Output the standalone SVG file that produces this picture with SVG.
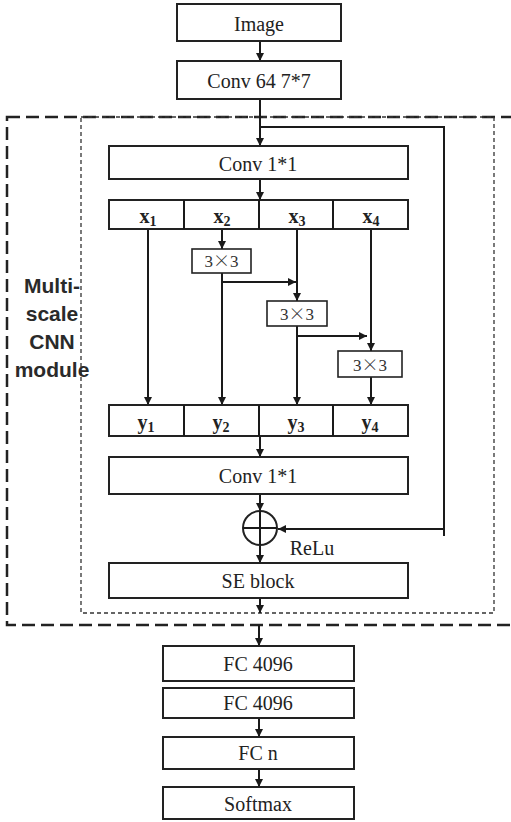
<svg xmlns="http://www.w3.org/2000/svg" width="511" height="822" viewBox="0 0 511 822">
<defs>
<marker id="ah" viewBox="0 0 10 10" refX="10" refY="5" markerWidth="8" markerHeight="8" markerUnits="userSpaceOnUse" orient="auto">
<path d="M0,0 L10,5 L0,10 z" fill="#1a1a1a"/>
</marker>
<style>
.box{fill:#fff;stroke:#222;stroke-width:2}
.sbox{fill:#fff;stroke:#222;stroke-width:1.6}
.lbl{font-family:"Liberation Serif","Times New Roman",serif;font-size:20px;fill:#222;text-anchor:middle}
.sub{font-size:14px}
.bold{font-weight:bold}
.k{font-family:"Liberation Serif",serif;font-size:17px;fill:#333;text-anchor:middle}
.x{font-family:"Noto Sans CJK SC",sans-serif;font-weight:300}
.ms{font-family:"Liberation Sans",Arial,sans-serif;font-size:21px;font-weight:bold;fill:#2a2a2a;text-anchor:middle}
.c{fill:none;stroke:#1a1a1a;stroke-width:2}
.ca{fill:none;stroke:#1a1a1a;stroke-width:2;marker-end:url(#ah)}
</style>
</defs>
<rect width="511" height="822" fill="#fff"/>

<g id="module-frames">
<rect x="7" y="117" width="520" height="508" fill="none" stroke="#222" stroke-width="2.5" stroke-dasharray="13 6"/>
<rect x="81" y="117" width="413" height="496" fill="none" stroke="#333" stroke-width="1.3" stroke-dasharray="4 3"/>
</g>
<g id="module-label">
<text class="ms" x="52" y="293">Multi-</text>
<text class="ms" x="52" y="321">scale</text>
<text class="ms" x="52" y="349">CNN</text>
<text class="ms" x="52" y="377">module</text>
</g>

<g id="connectors">
<line class="ca" x1="260" y1="41" x2="260" y2="61"/>
<line class="ca" x1="260" y1="99" x2="260" y2="146"/>
<polyline class="ca" points="260,127 444,127 444,529 278,529"/>
<line class="c" x1="444" y1="529" x2="444" y2="536"/>
<line class="ca" x1="260" y1="179" x2="260" y2="200"/>
<line class="ca" x1="148" y1="229" x2="148" y2="405"/>
<line class="ca" x1="222" y1="229" x2="222" y2="249"/>
<line class="ca" x1="222" y1="273" x2="222" y2="405"/>
<line class="ca" x1="222" y1="282" x2="296" y2="282"/>
<line class="ca" x1="297" y1="229" x2="297" y2="301"/>
<line class="ca" x1="297" y1="326" x2="297" y2="405"/>
<line class="ca" x1="297" y1="336" x2="367" y2="336"/>
<line class="ca" x1="371" y1="229" x2="371" y2="351"/>
<line class="ca" x1="371" y1="377" x2="371" y2="405"/>
<line class="ca" x1="260" y1="436" x2="260" y2="457"/>
<line class="ca" x1="260" y1="494" x2="260" y2="511"/>
<line class="ca" x1="260" y1="545" x2="260" y2="563"/>
<line class="ca" x1="260" y1="598" x2="260" y2="613"/>
<line class="ca" x1="259" y1="625" x2="259" y2="646"/>
<line class="ca" x1="259" y1="718" x2="259" y2="737"/>
<line class="ca" x1="259" y1="769" x2="259" y2="787"/>
</g>

<g id="image"><rect class="box" x="177" y="4" width="164" height="37"/><text class="lbl" x="259" y="31">Image</text></g>
<g id="conv64"><rect class="box" x="177" y="61" width="164" height="38"/><text class="lbl" x="259" y="88">Conv 64 7*7</text></g>
<g id="conv1x1-a"><rect class="box" x="109" y="146" width="299" height="33"/><text class="lbl" x="258" y="171">Conv 1*1</text></g>
<g id="x-split">
<rect class="box" x="109" y="200" width="299" height="29"/>
<line class="c" x1="184" y1="200" x2="184" y2="229"/>
<line class="c" x1="259" y1="200" x2="259" y2="229"/>
<line class="c" x1="333" y1="200" x2="333" y2="229"/>
<text class="lbl bold" x="148" y="223">x<tspan class="sub" dy="3">1</tspan></text>
<text class="lbl bold" x="222" y="223">x<tspan class="sub" dy="3">2</tspan></text>
<text class="lbl bold" x="297" y="223">x<tspan class="sub" dy="3">3</tspan></text>
<text class="lbl bold" x="371" y="223">x<tspan class="sub" dy="3">4</tspan></text>
</g>
<g id="k3-1"><rect class="sbox" x="192" y="249" width="59" height="24"/><text class="k" x="221.5" y="267">3<tspan class="x">×</tspan>3</text></g>
<g id="k3-2"><rect class="sbox" x="267" y="301" width="60" height="25"/><text class="k" x="297" y="320">3<tspan class="x">×</tspan>3</text></g>
<g id="k3-3"><rect class="sbox" x="338" y="351" width="64" height="26"/><text class="k" x="370" y="371">3<tspan class="x">×</tspan>3</text></g>
<g id="y-concat">
<rect class="box" x="109" y="405" width="299" height="31"/>
<line class="c" x1="184" y1="405" x2="184" y2="436"/>
<line class="c" x1="259" y1="405" x2="259" y2="436"/>
<line class="c" x1="333" y1="405" x2="333" y2="436"/>
<text class="lbl bold" x="146" y="429">y<tspan class="sub" dy="3">1</tspan></text>
<text class="lbl bold" x="221" y="429">y<tspan class="sub" dy="3">2</tspan></text>
<text class="lbl bold" x="296" y="429">y<tspan class="sub" dy="3">3</tspan></text>
<text class="lbl bold" x="370" y="429">y<tspan class="sub" dy="3">4</tspan></text>
</g>
<g id="conv1x1-b"><rect class="box" x="109" y="457" width="299" height="37"/><text class="lbl" x="258" y="483">Conv 1*1</text></g>
<g id="add">
<circle cx="260" cy="528" r="17" fill="#fff" stroke="#222" stroke-width="2"/>
<line class="c" x1="243" y1="528" x2="277" y2="528"/>
<line class="c" x1="260" y1="511" x2="260" y2="545"/>
<text class="lbl" x="312" y="555">ReLu</text>
</g>
<g id="se"><rect class="box" x="109" y="563" width="299" height="35"/><text class="lbl" x="258" y="588">SE block</text></g>
<g id="fc1"><rect class="box" x="163" y="646" width="191" height="35"/><text class="lbl" x="258" y="671">FC 4096</text></g>
<g id="fc2"><rect class="box" x="163" y="688" width="191" height="30"/><text class="lbl" x="258" y="710">FC 4096</text></g>
<g id="fcn"><rect class="box" x="163" y="737" width="191" height="32"/><text class="lbl" x="258" y="760">FC n</text></g>
<g id="softmax"><rect class="box" x="163" y="787" width="191" height="32"/><text class="lbl" x="258" y="811">Softmax</text></g>
</svg>
